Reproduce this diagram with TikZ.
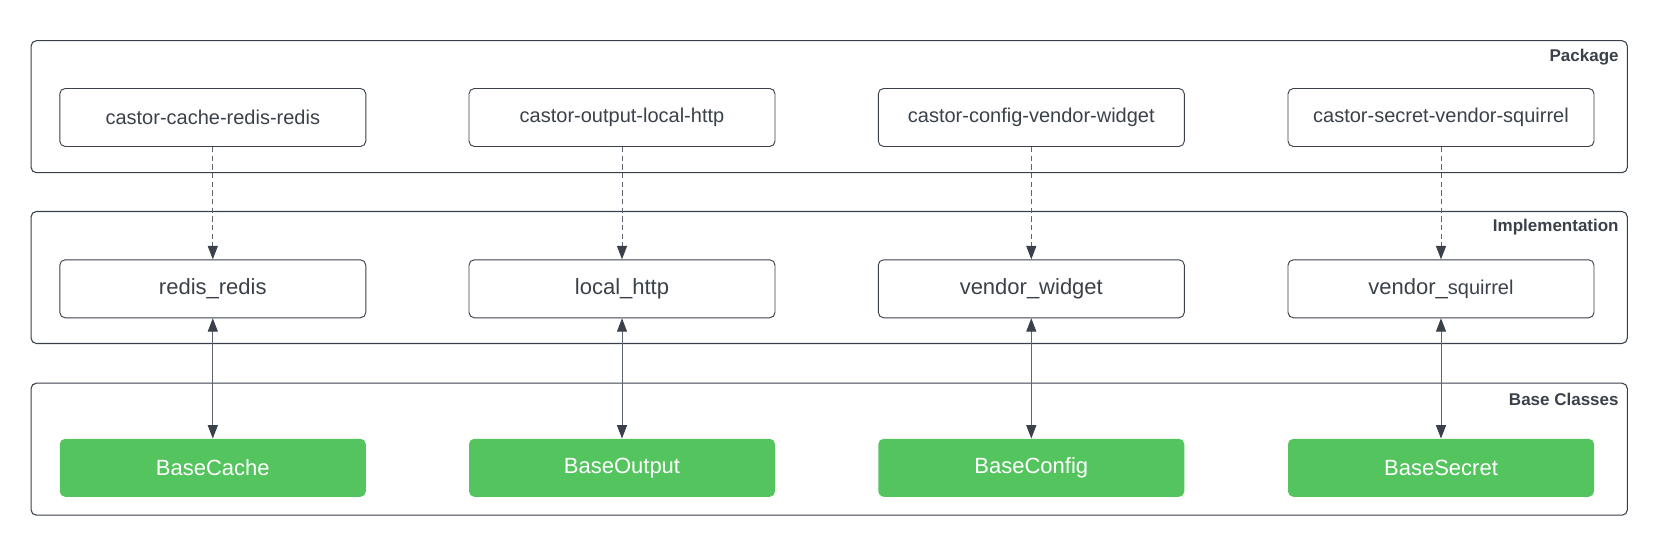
\documentclass[tikz,border=0pt]{standalone}
\usepackage{fontspec}
\setmainfont{Liberation Sans}
\usetikzlibrary{positioning, arrows.meta}

\definecolor{ink}{HTML}{3A414A}
\definecolor{wire}{HTML}{5F6570}
\definecolor{basegreen}{HTML}{54C45E}

\begin{document}
\begin{tikzpicture}[x=0.75pt, y=-0.75pt,
    lane/.style={draw=ink, line width=0.8pt, rounded corners=4pt, minimum width=1197.2pt, minimum height=99pt, inner sep=0pt},
    lanetitle/.style={text=ink, font=\bfseries\fontsize{12.75}{15}\selectfont, anchor=east, inner sep=0pt},
    pkgbox/.style={draw=ink, line width=0.7pt, rounded corners=4pt, minimum width=229.5pt, minimum height=43.5pt, inner sep=0pt, text=ink, font=\fontsize{15}{18}\selectfont},
    implbox/.style={pkgbox, font=\fontsize{16.5}{20}\selectfont},
    basebox/.style={fill=basegreen, rounded corners=4pt, minimum width=229.5pt, minimum height=43.5pt, inner sep=0pt, text=white, font=\fontsize{16.5}{20}\selectfont},
    uses/.style={draw=wire, line width=0.7pt, dash pattern=on 4pt off 2.5pt, -{Triangle[length=10pt, width=7.5pt, color=ink]}},
    binds/.style={draw=wire, line width=0.7pt, {Triangle[length=10pt, width=7.5pt, color=ink]}-{Triangle[length=10pt, width=7.5pt, color=ink]}}
  ]
  \useasboundingbox (0,0) rectangle (1657,555);

  % Lanes
  \node[lane] (pkg) at (829.2,106.7) {};
  \node[lane] (impl) at (829.2,277.5) {};
  \node[lane] (base) at (829.2,449.2) {};
  \node[lanetitle] (pkgtitle) at ([shift={(-9,16.5)}]pkg.north east) {Package};
  \node[lanetitle] (impltitle) at ([shift={(-9,16.5)}]impl.north east) {Implementation};
  \node[lanetitle] (basetitle) at ([shift={(-9,16.5)}]base.north east) {Base Classes};

  % Packages
  \node[pkgbox] (p1) at (212.8,117.5) {castor-cache-redis-redis};
  \node[pkgbox] (p2) at (622,117.5) {castor-output-local-http};
  \node[pkgbox] (p3) at (1031.3,117.5) {castor-config-vendor-widget};
  \node[pkgbox] (p4) at (1441,117.5) {castor-secret-vendor-squirrel};

  % Implementations
  \node[implbox] (i1) at (212.8,288.8) {redis\_redis};
  \node[implbox] (i2) at (622,288.8) {local\_http};
  \node[implbox] (i3) at (1031.3,288.8) {vendor\_widget};
  \node[implbox] (i4) at (1441,288.8) {vendor\_{\fontsize{15}{18}\selectfont squirrel}};

  % Base classes
  \node[basebox] (b1) at (212.8,467.8) {BaseCache};
  \node[basebox] (b2) at (622,467.8) {BaseOutput};
  \node[basebox] (b3) at (1031.3,467.8) {BaseConfig};
  \node[basebox] (b4) at (1441,467.8) {BaseSecret};

  % Edges
  \draw[uses] (p1) -- (i1);
  \draw[uses] (p2) -- (i2);
  \draw[uses] (p3) -- (i3);
  \draw[uses] (p4) -- (i4);
  \draw[binds] (i1) -- (b1);
  \draw[binds] (i2) -- (b2);
  \draw[binds] (i3) -- (b3);
  \draw[binds] (i4) -- (b4);
\end{tikzpicture}
\end{document}
